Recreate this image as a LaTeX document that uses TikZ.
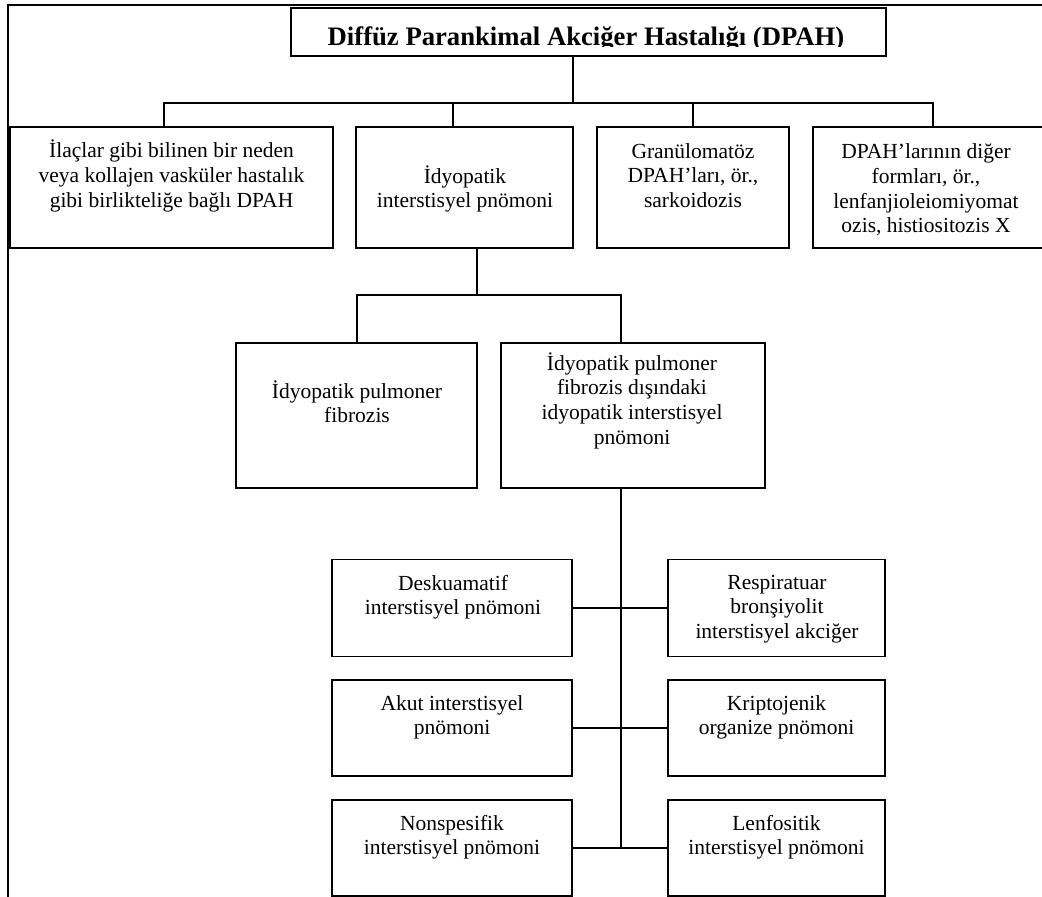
\documentclass[tikz,border=0pt]{standalone}
\usepackage{fontspec}
\setmainfont{Liberation Serif}
\newcommand\mlines[1]{\begin{tabular}[t]{@{}c@{}}#1\end{tabular}}
\begin{document}
\begin{tikzpicture}[x=1pt,y=-1pt,
  box/.style={draw, line width=1.7pt, rectangle, inner sep=0pt},
  txt/.style={inner sep=0pt, anchor=base, font=\fontsize{21.5}{24.8}\selectfont},
  ttl/.style={inner sep=0pt, anchor=base, font=\fontsize{26.67}{30}\selectfont\bfseries},
  conn/.style={draw, line width=1.7pt}]
\useasboundingbox (0,0) rectangle (1042,897);
\clip (0,0) rectangle (1042,897);
% outer frame
\coordinate (fa) at (1050,5);
\coordinate (fb) at (8,5);
\coordinate (fc) at (8,905);
\draw[conn] (fa) -- (fb) -- (fc);
% top box
\node[box, minimum width=595pt, minimum height=48pt] (top) at (588.5,32) {};
\begin{scope}
\clip (291,8) rectangle (886,46.5);
\node[ttl] (ttitle) at (586,45) {Diffüz Parankimal Akciğer Hastalığı (DPAH)};
\end{scope}
% level 1 boxes
\node[box, minimum width=323pt, minimum height=121pt] (b1) at (171.5,187.5) {};
\node[box, minimum width=217pt, minimum height=121pt] (b2) at (464.5,187.5) {};
\node[box, minimum width=192pt, minimum height=121pt] (b3) at (693,187.5) {};
\node[box, minimum width=230pt, minimum height=121pt] (b4) at (928,187.5) {};
\node[txt] (t1) at (171.5,157.5) {\mlines{İlaçlar gibi bilinen bir neden\\veya kollajen vasküler hastalık\\gibi birlikteliğe bağlı DPAH}};
\node[txt] (t2) at (465,183) {\mlines{İdyopatik\\interstisyel pnömoni}};
\node[txt] (t3) at (693,158) {\mlines{Granülomatöz\\DPAH’ları, ör.,\\sarkoidozis}};
\node[txt] (t4) at (926,158.5) {\mlines{DPAH’larının diğer\\formları, ör.,\\lenfanjioleiomiyomat\\ozis, histiositozis X}};
% level 2 boxes
\node[box, minimum width=241pt, minimum height=145pt] (f1) at (356.5,415.5) {};
\node[box, minimum width=264pt, minimum height=145pt] (f2) at (633,415.5) {};
\node[txt] (u1) at (357,398) {\mlines{İdyopatik pulmoner\\fibrozis}};
\node[txt] (u2) at (632,370) {\mlines{İdyopatik pulmoner\\fibrozis dışındaki\\idyopatik interstisyel\\pnömoni}};
% level 3 boxes
\node[box, minimum width=240pt, minimum height=97pt] (g1) at (452,608) {};
\node[box, minimum width=240pt, minimum height=96pt] (g2) at (452,728) {};
\node[box, minimum width=240pt, minimum height=96pt] (g3) at (452,848) {};
\node[box, minimum width=217pt, minimum height=97pt] (h1) at (776.5,608) {};
\node[box, minimum width=217pt, minimum height=96pt] (h2) at (776.5,728) {};
\node[box, minimum width=217pt, minimum height=96pt] (h3) at (776.5,848) {};
\node[txt] (v1) at (453,590) {\mlines{Deskuamatif\\interstisyel pnömoni}};
\node[txt] (v2) at (452,710) {\mlines{Akut interstisyel\\pnömoni}};
\node[txt] (v3) at (452,830) {\mlines{Nonspesifik\\interstisyel pnömoni}};
\node[txt] (w1) at (777,589) {\mlines{Respiratuar\\bronşiyolit\\interstisyel akciğer}};
\node[txt] (w2) at (776.5,710) {\mlines{Kriptojenik\\organize pnömoni}};
\node[txt] (w3) at (776.5,830) {\mlines{Lenfositik\\interstisyel pnömoni}};
% connectors level 1
\coordinate (j0) at (573,103);
\coordinate (d1) at (164,103);
\coordinate (d2) at (453,103);
\coordinate (d3) at (693,103);
\coordinate (d4) at (933,103);
\draw[conn] (top.south -| j0) -- (j0);
\draw[conn] (b1.north -| d1) -- (d1) -- (d4) -- (b4.north -| d4);
\draw[conn] (b2.north -| d2) -- (d2);
\draw[conn] (b3.north -| d3) -- (d3);
% connectors level 2
\coordinate (e0) at (477,295);
\coordinate (e1) at (357,295);
\coordinate (e2) at (621,295);
\draw[conn] (b2.south -| e0) -- (e0);
\draw[conn] (f1.north -| e1) -- (e1) -- (e2) -- (f2.north -| e2);
% trunk and level 3
\coordinate (k) at (621,848);
\draw[conn] (f2.south -| k) -- (k);
\draw[conn] (g1.east) -- (h1.west);
\draw[conn] (g2.east) -- (h2.west);
\draw[conn] (g3.east) -- (h3.west);
\end{tikzpicture}
\end{document}
